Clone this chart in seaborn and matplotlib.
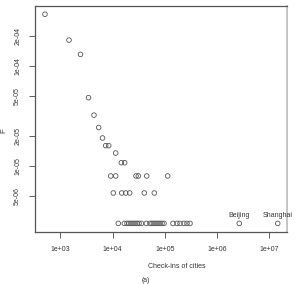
import matplotlib
matplotlib.use("Agg")
import matplotlib.pyplot as plt
import matplotlib.ticker as mticker
import seaborn as sns
import pandas as pd

# Data (check-ins per city vs. frequency F)
checkins_top = [509, 1467, 2435, 3465, 4416, 5431, 6422, 7393, 8439, 11490, 14710, 17080]
freq_top = [3.30e-4, 1.82e-4, 1.31e-4, 4.83e-5, 3.23e-5, 2.43e-5, 1.91e-5, 1.60e-5, 1.60e-5,
            1.35e-5, 1.08e-5, 1.08e-5]
checkins_row3 = [9218, 11490, 28100, 31100, 45040, 113700]
freq_row3 = 7.96e-6
checkins_row2 = [10340, 14970, 17850, 21290, 40520, 62960]
freq_row2 = 5.38e-6
checkins_row1 = [12880, 16790, 18910, 20650, 22550, 24630, 26900, 29380, 32080, 35830,
                 44250, 52100, 56890, 62140, 67860, 74110, 80930, 88380, 96540,
                 143500, 171200, 195400, 233100, 266000, 303600, 2660000, 14480000]
freq_row1 = 2.67e-6
city_labels = {2660000: "Beijing", 14480000: "Shanghai"}

x_ticks = [1e3, 1e4, 1e5, 1e6, 1e7]
x_ticklabels = ["1e+03", "1e+04", "1e+05", "1e+06", "1e+07"]
y_ticks = [2e-4, 1e-4, 5e-5, 2e-5, 1e-5, 5e-6]
y_ticklabels = ["2e-04", "1e-04", "5e-05", "2e-05", "1e-05", "5e-06"]

xs = checkins_top + checkins_row3 + checkins_row2 + checkins_row1
ys = (freq_top + [freq_row3] * len(checkins_row3) + [freq_row2] * len(checkins_row2)
      + [freq_row1] * len(checkins_row1))
df = pd.DataFrame({"checkins": xs, "F": ys})

sns.set_style("white")
plt.rcParams["font.family"] = ["Liberation Sans", "DejaVu Sans"]

fig = plt.figure(figsize=(3.01, 2.84), dpi=100)
ax = fig.add_axes([35 / 301, (284 - 232) / 284, 252 / 301, 226 / 284])

sns.scatterplot(data=df, x="checkins", y="F", ax=ax, marker="o", s=11,
                facecolors="none", edgecolor="#555555", linewidth=0.6)

ax.set_xscale("log")
ax.set_yscale("log")
ax.set_xlim(328, 2.18e7)
ax.set_ylim(2.19e-6, 3.99e-4)

ax.xaxis.set_major_locator(mticker.FixedLocator(x_ticks))
ax.xaxis.set_major_formatter(mticker.FixedFormatter(x_ticklabels))
ax.xaxis.set_minor_locator(mticker.NullLocator())
ax.yaxis.set_major_locator(mticker.FixedLocator(y_ticks))
ax.yaxis.set_major_formatter(mticker.FixedFormatter(y_ticklabels))
ax.yaxis.set_minor_locator(mticker.NullLocator())

ax.tick_params(axis="both", which="major", direction="out", length=4, width=0.6,
               color="#444444", labelsize=5, labelcolor="#333333", pad=6,
               bottom=True, left=True)
for lab in ax.get_yticklabels():
    lab.set_rotation(90)
    lab.set_va("center")

for side in ["left", "bottom", "top"]:
    ax.spines[side].set_color("#555555")
    ax.spines[side].set_linewidth(0.9)
ax.spines["right"].set_color("#bbbbbb")
ax.spines["right"].set_linewidth(1.2)

ax.set_xlabel("Check-ins of cities", fontsize=5, color="#333333", labelpad=9)
ax.xaxis.set_label_coords((177 - 35) / 252, -(263 - 232) / 226)
ax.set_ylabel("F", fontsize=5.5, color="#333333")
ax.yaxis.set_label_coords(-(35 - 7) / 252, (232 - 131) / 226)

for xv, name in city_labels.items():
    ax.annotate(name, xy=(xv, freq_row1), xytext=(0, 7.6), textcoords="offset pixels",
                ha="center", va="center", fontsize=5, color="#333333")

fig.text(146 / 301, 4 / 284, "(a)", ha="center", va="center", fontsize=5, color="#333333")

fig.savefig("out.png", dpi=100)
